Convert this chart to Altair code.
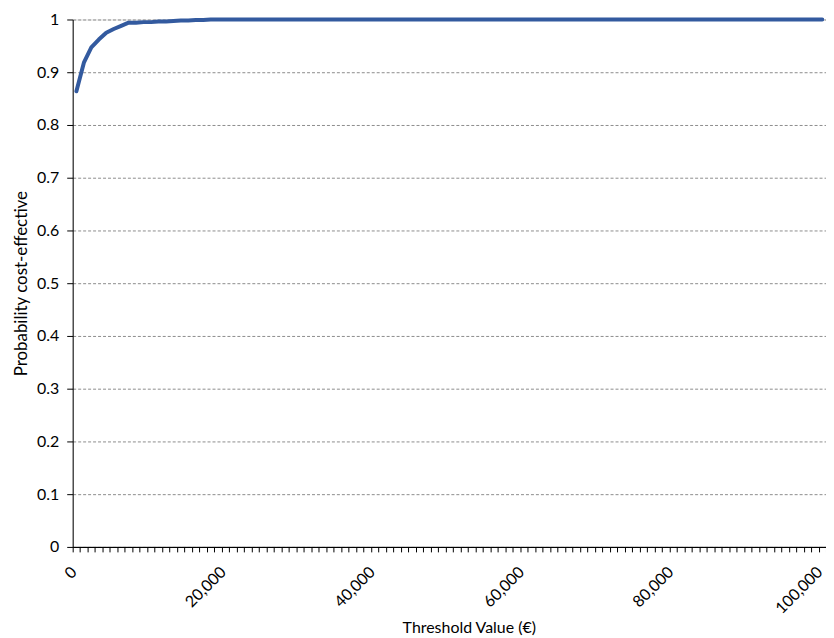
import altair as alt
import pandas as pd

thresholds = [i * 1000 for i in range(101)]
prob = [
    0.864, 0.918, 0.947, 0.962, 0.975, 0.982, 0.988, 0.994, 0.994, 0.995,
    0.995, 0.996, 0.996, 0.997, 0.998, 0.998, 0.999, 0.999, 1.0, 1.0,
    1.0, 1.0, 1.0, 1.0, 1.0, 1.0, 1.0, 1.0, 1.0, 1.0,
    1.0, 1.0, 1.0, 1.0, 1.0, 1.0, 1.0, 1.0, 1.0, 1.0,
    1.0, 1.0, 1.0, 1.0, 1.0, 1.0, 1.0, 1.0, 1.0, 1.0,
    1.0, 1.0, 1.0, 1.0, 1.0, 1.0, 1.0, 1.0, 1.0, 1.0,
    1.0, 1.0, 1.0, 1.0, 1.0, 1.0, 1.0, 1.0, 1.0, 1.0,
    1.0, 1.0, 1.0, 1.0, 1.0, 1.0, 1.0, 1.0, 1.0, 1.0,
    1.0, 1.0, 1.0, 1.0, 1.0, 1.0, 1.0, 1.0, 1.0, 1.0,
    1.0, 1.0, 1.0, 1.0, 1.0, 1.0, 1.0, 1.0, 1.0, 1.0,
    1.0,
]
x_label_values = [0, 20000, 40000, 60000, 80000, 100000]
x_tick_values = [-500 + 1000 * i for i in range(102)]
y_values = [round(0.1 * i, 1) for i in range(11)]

df = pd.DataFrame({"threshold": thresholds, "prob": prob})

FONT = "Lato"
xscale = alt.Scale(domain=[-500, 100500], nice=False, zero=False)
yscale = alt.Scale(domain=[0, 1], nice=False)


def yaxis():
    return alt.Axis(
        values=y_values,
        labelExpr="format(datum.value, '.1~f')",
        title="Probability cost-effective",
        titleFont=FONT, titleFontSize=17, titleFontWeight="normal", titleColor="black",
        titlePadding=6,
        labelFont=FONT, labelFontSize=16, labelColor="black", labelPadding=8,
        tickSize=6, tickColor="black", domainColor="black",
        grid=True, gridColor="#8c8c8c", gridDash=[3, 2], gridWidth=1,
    )


line = alt.Chart(df).mark_line(color="#335a9f", strokeWidth=4, strokeCap="round", strokeJoin="round").encode(
    x=alt.X("threshold:Q", scale=xscale, axis=alt.Axis(
        orient="bottom",
        values=x_label_values,
        labelExpr="format(datum.value, ',')",
        title="Threshold Value (€)",
        titleFont=FONT, titleFontSize=16, titleFontWeight="normal", titleColor="black",
        titleX=398, titleAlign="center",
        titleY=86, titleBaseline="alphabetic",
        labelFont=FONT, labelFontSize=16, labelColor="black", labelAngle=-45,
        labelAlign="right", labelBaseline="bottom",
        labelPadding=28, labelOffset=3,
        ticks=False, domainColor="black", grid=False,
    )),
    y=alt.Y("prob:Q", scale=yscale, axis=yaxis()),
)

ticks = alt.Chart(df).mark_line(opacity=0).encode(
    x=alt.X("threshold:Q", scale=xscale, axis=alt.Axis(
        orient="bottom",
        values=x_tick_values, labels=False, title=None,
        tickSize=5, tickColor="black", domainColor="black", grid=False,
    )),
    y=alt.Y("prob:Q", scale=yscale, axis=yaxis()),
)

chart = alt.layer(ticks, line).resolve_axis(x="independent").properties(
    width=757,
    height=530,
    autosize=alt.AutoSizeParams(type="none"),
    padding={"left": 65, "top": 10, "right": 0, "bottom": 92},
).configure_view(stroke="#999999", strokeWidth=1.5).configure(background="white")

chart.save("out.html", embed_options={"renderer": "svg", "actions": False})
